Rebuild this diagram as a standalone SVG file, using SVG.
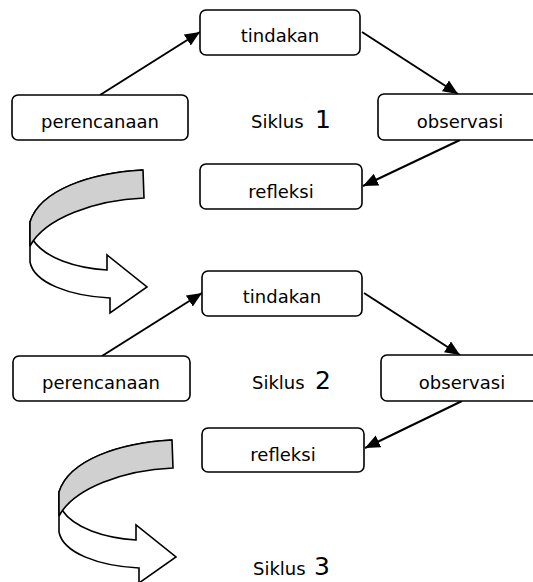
<svg xmlns="http://www.w3.org/2000/svg" width="533" height="582" viewBox="0 0 533 582">
<style>
.box{fill:#fff;stroke:#000;stroke-width:1.6}
.lbl{font-family:"DejaVu Sans",Verdana,sans-serif;font-size:18px;fill:#000;text-anchor:middle}
.sik{font-family:"DejaVu Sans",Verdana,sans-serif;font-size:18px;fill:#000}
.num{font-size:25px}
.edge{stroke:#000;stroke-width:2;fill:none;marker-end:url(#ah)}
.rib{stroke:#000;stroke-width:1.6;stroke-linejoin:miter}
</style>
<defs>
<marker id="ah" markerUnits="userSpaceOnUse" markerWidth="16" markerHeight="14" refX="15" refY="6.5" orient="auto">
<path d="M0,0 L15,6.5 L0,13 Z" fill="#000"/>
</marker>
<g id="ribbon">
<path class="rib" fill="#fff" d="M143,170 C90,173 40,190 30,222 L30,262 C34,283 70,296 110,298 L110,313 L147,287 L107,255 L107,270 C75,268 45,258 33,240"/>
<path class="rib" fill="#d0d0d0" d="M143,170 C90,173 40,190 30,222 L30,246 C45,218 95,200 144,198 Z"/>
</g>
</defs>

<g id="cycle-arrows">
<use href="#ribbon"/>
<use href="#ribbon" transform="translate(29,270)"/>
</g>

<g id="connectors">
<line class="edge" x1="100" y1="95" x2="200" y2="32"/>
<line class="edge" x1="362" y1="32" x2="458" y2="94"/>
<line class="edge" x1="460" y1="140" x2="363" y2="186"/>
<line class="edge" x1="102" y1="356" x2="202" y2="293"/>
<line class="edge" x1="364" y1="293" x2="460" y2="355"/>
<line class="edge" x1="462" y1="401" x2="365" y2="448"/>
</g>

<g id="tindakan1"><rect class="box" x="200" y="10" width="160" height="45" rx="6"/><text class="lbl" x="280" y="42">tindakan</text></g>
<g id="perencanaan1"><rect class="box" x="12" y="95" width="176" height="45" rx="6"/><text class="lbl" x="100" y="128">perencanaan</text></g>
<g id="observasi1"><rect class="box" x="378" y="94" width="164" height="46" rx="6"/><text class="lbl" x="460" y="128">observasi</text></g>
<g id="refleksi1"><rect class="box" x="200" y="164" width="162" height="45" rx="6"/><text class="lbl" x="281" y="198">refleksi</text></g>
<g id="siklus1"><text class="sik" x="251" y="128">Siklus <tspan class="num" x="315">1</tspan></text></g>

<g id="tindakan2"><rect class="box" x="202" y="271" width="160" height="45" rx="6"/><text class="lbl" x="282" y="303">tindakan</text></g>
<g id="perencanaan2"><rect class="box" x="13" y="356" width="177" height="45" rx="6"/><text class="lbl" x="101" y="389">perencanaan</text></g>
<g id="observasi2"><rect class="box" x="381" y="355" width="164" height="46" rx="6"/><text class="lbl" x="462" y="389">observasi</text></g>
<g id="refleksi2"><rect class="box" x="202" y="428" width="162" height="44" rx="6"/><text class="lbl" x="283" y="461">refleksi</text></g>
<g id="siklus2"><text class="sik" x="252" y="389">Siklus <tspan class="num" x="315">2</tspan></text></g>

<g id="siklus3"><text class="sik" x="253" y="575">Siklus <tspan class="num" x="314">3</tspan></text></g>
</svg>
